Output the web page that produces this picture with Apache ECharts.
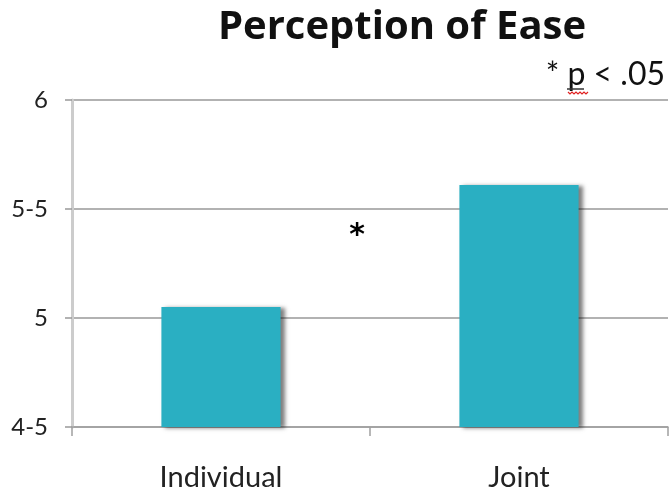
<!DOCTYPE html>
<html>
<head>
<meta charset="utf-8">
<script src="https://cdn.jsdelivr.net/npm/echarts@6/dist/echarts.min.js"></script>
<style>html,body{margin:0;padding:0;background:#fff}#c{width:670px;height:495px}</style>
</head>
<body>
<div id="c"></div>
<script>
const categories = ["Individual", "Joint"];
const values = [5.05, 5.61];
const yTickLabels = {"4.5": "4-5", "5": "5", "5.5": "5-5", "6": "6"};
const titleText = "Perception of Ease";
const noteText = "* p < .05";

const chart = echarts.init(document.getElementById('c'), null, {renderer: 'canvas'});
const font = 'Lato, "Open Sans", sans-serif';
chart.setOption({
  animation: false,
  title: {
    text: titleText, left: 397, top: 3, textAlign: 'center',
    textStyle: {fontFamily: '"Open Sans", sans-serif', fontWeight: 'bold', fontSize: 40, color: '#111'}
  },
  grid: {left: 72, right: 2, top: 100, bottom: 68},
  xAxis: {
    type: 'category', data: categories,
    axisLine: {lineStyle: {color: '#a0a0a0', width: 1.5}},
    axisTick: {show: true, length: 9, lineStyle: {color: '#a0a0a0', width: 1.5}},
    axisLabel: {fontFamily: font, fontSize: 29, color: '#222', margin: 36}
  },
  yAxis: {
    type: 'value', min: 4.5, max: 6, interval: 0.5,
    axisLine: {show: true, lineStyle: {color: '#cccccc', width: 3}},
    axisTick: {show: true, length: 7, lineStyle: {color: '#999', width: 1.5}},
    splitLine: {show: true, lineStyle: {color: '#999', width: 1.5}},
    axisLabel: {fontFamily: font, fontSize: 24, color: '#222', margin: 24,
      formatter: v => yTickLabels[String(v)] ?? String(v)}
  },
  series: [{
    type: 'bar', data: values, barWidth: '40%',
    itemStyle: {color: '#2AAFC2', shadowColor: 'rgba(0,0,0,0.5)', shadowBlur: 4, shadowOffsetX: 4, shadowOffsetY: 1},
    z: 3
  }],
  graphic: [
    {type: 'text', x: 357, y: 236, z: 10,
     style: {text: '*', fontFamily: '"DejaVu Sans", sans-serif', fontWeight: 'bold', fontSize: 30, fill: '#000', align: 'center', verticalAlign: 'middle'}},
    {type: 'text', x: 665, y: 75, z: 10,
     style: {text: noteText, fontFamily: font, fontSize: 32, fill: '#111', align: 'right', verticalAlign: 'middle'}},
    {type: 'line', z: 10, shape: {x1: 567, y1: 89, x2: 584, y2: 89}, style: {stroke: '#333', lineWidth: 1.5}},
    {type: 'polyline', z: 10, shape: {points: [[568,92],[570,94],[572,92],[574,94],[576,92],[578,94],[580,92],[582,94],[584,92],[586,94],[588,92]]},
     style: {stroke: '#e02020', lineWidth: 1.2, fill: null}}
  ]
});
</script>
</body>
</html>
